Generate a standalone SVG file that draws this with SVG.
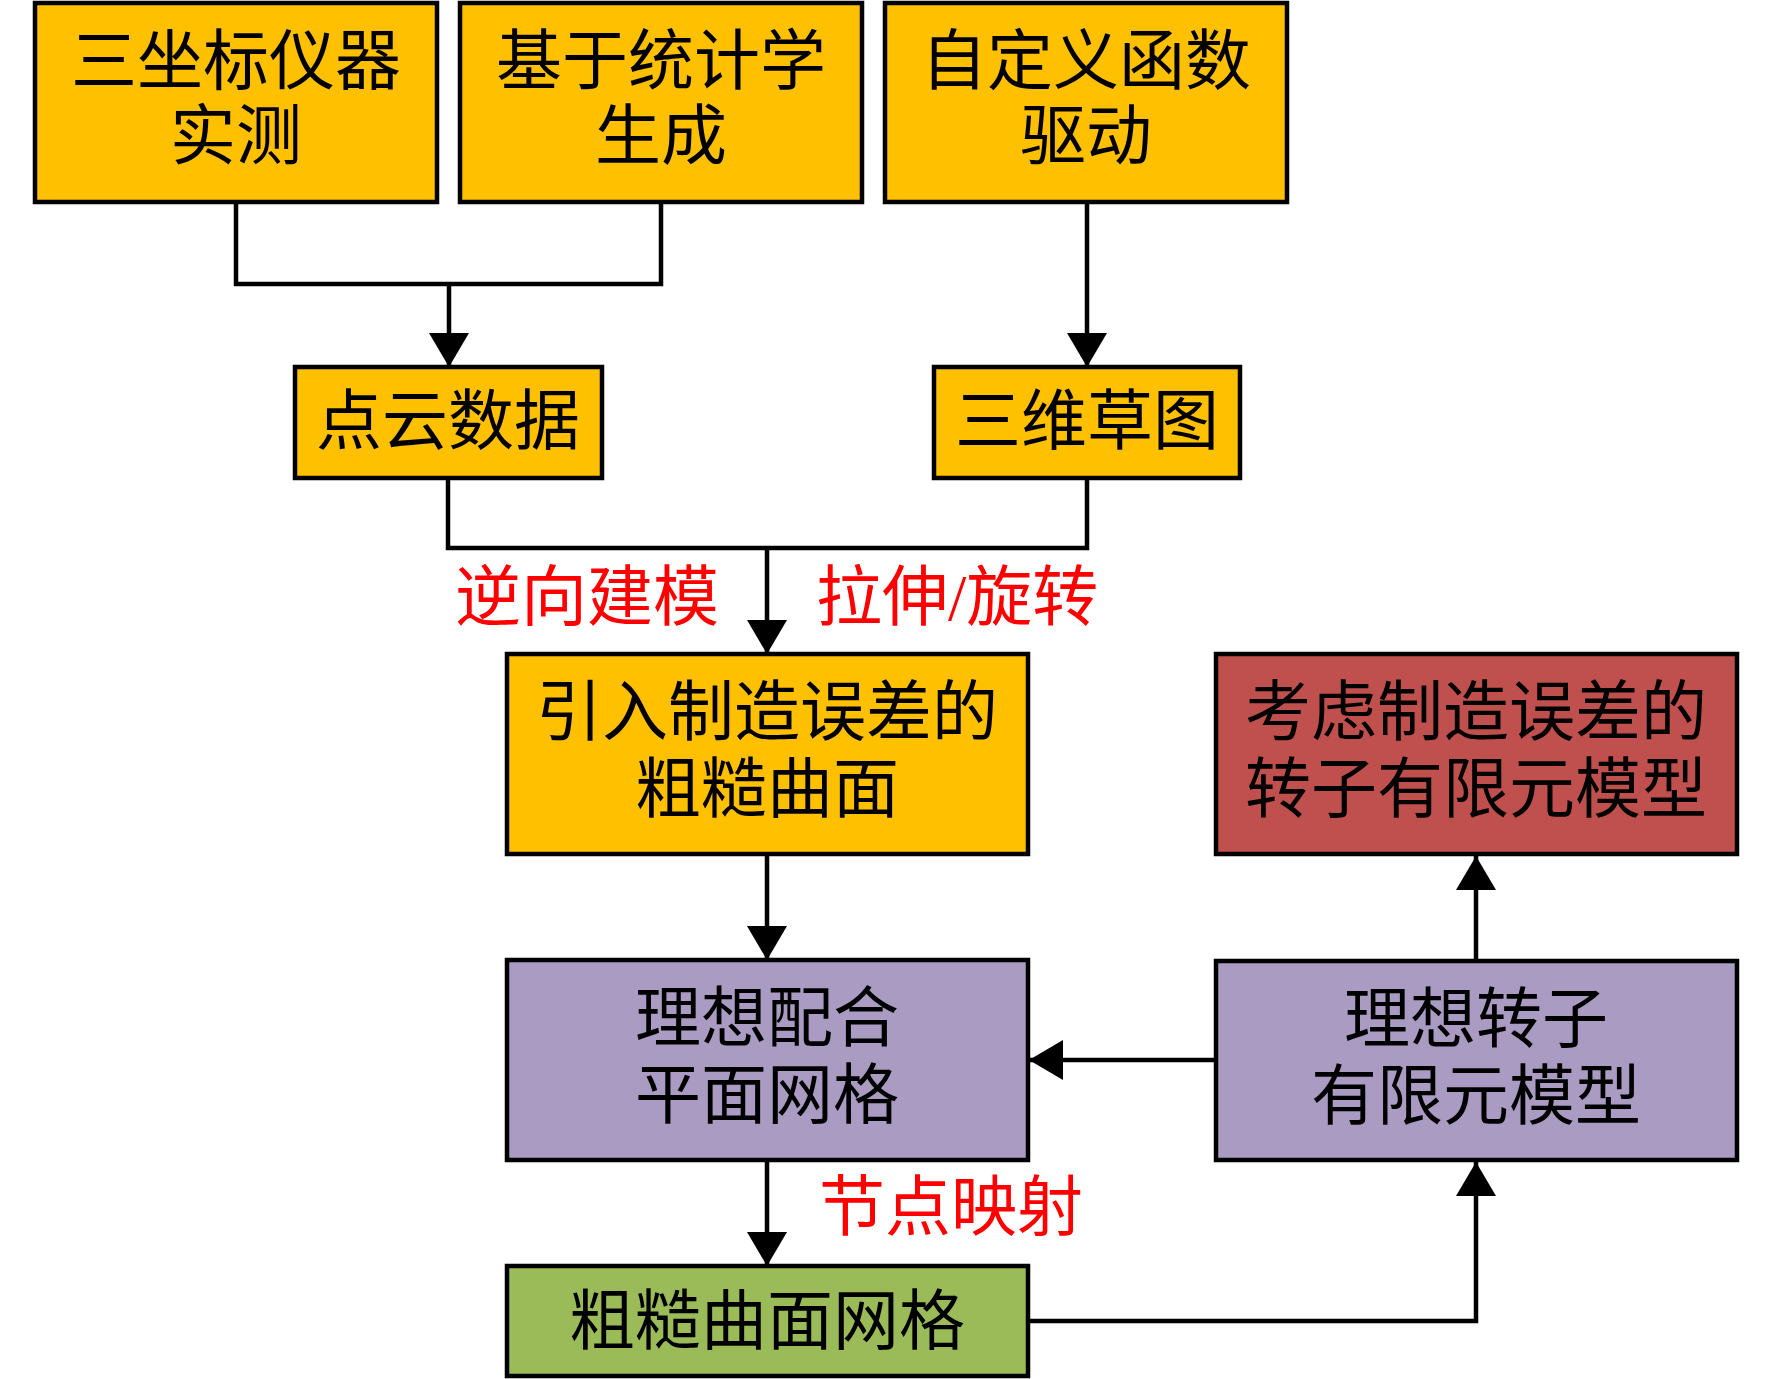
<svg xmlns="http://www.w3.org/2000/svg" width="1772" height="1379" viewBox="0 0 1772 1379">
<style>
.box{stroke:#000;stroke-width:4.5}
.y{fill:#FFC000}
.r{fill:#C0504D}
.p{fill:#A99BC1}
.g{fill:#9BBB59}
.t{font-family:"Liberation Serif","Noto Sans CJK SC",serif;font-size:66px;fill:#000;text-anchor:middle;dominant-baseline:central}
.lbl{font-family:"Liberation Serif","Noto Sans CJK SC",serif;font-size:66px;fill:#FF0000;dominant-baseline:central}
.c{fill:none;stroke:#000;stroke-width:4.5}
</style>
<defs>
<marker id="ah" viewBox="0 0 34 40" markerWidth="34" markerHeight="40" refX="34" refY="20" orient="auto" markerUnits="userSpaceOnUse">
<path d="M0,0 L34,20 L0,40 z" fill="#000"/>
</marker>
</defs>
<rect width="1772" height="1379" fill="#fff"/>
<g id="connectors">
<path class="c" d="M236,202 V284 H661 V202"/>
<path class="c" d="M449,284 V367" marker-end="url(#ah)"/>
<path class="c" d="M1087,202 V367" marker-end="url(#ah)"/>
<path class="c" d="M448,478 V548 H1087 V478"/>
<path class="c" d="M767,548 V654" marker-end="url(#ah)"/>
<path class="c" d="M767,854 V960" marker-end="url(#ah)"/>
<path class="c" d="M1216,1060 H1029" marker-end="url(#ah)"/>
<path class="c" d="M1476,961 V856" marker-end="url(#ah)"/>
<path class="c" d="M767,1160 V1266" marker-end="url(#ah)"/>
<path class="c" d="M1028,1321 H1476 V1162" marker-end="url(#ah)"/>
</g>
<g id="labels">
<text class="lbl" x="455" y="597">逆向建模</text>
<text class="lbl" x="816" y="597">拉伸/旋转</text>
<text class="lbl" x="819" y="1207">节点映射</text>
</g>
<g id="n1"><rect class="box y" x="35" y="3" width="402" height="199"/><text class="t" x="236" y="61">三坐标仪器</text><text class="t" x="236" y="136">实测</text></g>
<g id="n2"><rect class="box y" x="460" y="3" width="402" height="199"/><text class="t" x="661" y="61">基于统计学</text><text class="t" x="661" y="136">生成</text></g>
<g id="n3"><rect class="box y" x="885" y="3" width="402" height="199"/><text class="t" x="1086" y="61">自定义函数</text><text class="t" x="1086" y="136">驱动</text></g>
<g id="n4"><rect class="box y" x="295" y="367" width="307" height="111"/><text class="t" x="448" y="421">点云数据</text></g>
<g id="n5"><rect class="box y" x="934" y="367" width="306" height="111"/><text class="t" x="1087" y="421">三维草图</text></g>
<g id="n6"><rect class="box y" x="507" y="654" width="521" height="200"/><text class="t" x="767" y="712">引入制造误差的</text><text class="t" x="767" y="789">粗糙曲面</text></g>
<g id="n7"><rect class="box r" x="1216" y="654" width="521" height="200"/><text class="t" x="1476" y="712">考虑制造误差的</text><text class="t" x="1476" y="789">转子有限元模型</text></g>
<g id="n8"><rect class="box p" x="507" y="960" width="521" height="200"/><text class="t" x="767" y="1018">理想配合</text><text class="t" x="767" y="1095">平面网格</text></g>
<g id="n9"><rect class="box p" x="1216" y="961" width="521" height="199"/><text class="t" x="1476" y="1019">理想转子</text><text class="t" x="1476" y="1096">有限元模型</text></g>
<g id="n10"><rect class="box g" x="507" y="1266" width="521" height="110"/><text class="t" x="767" y="1321">粗糙曲面网格</text></g>
</svg>
